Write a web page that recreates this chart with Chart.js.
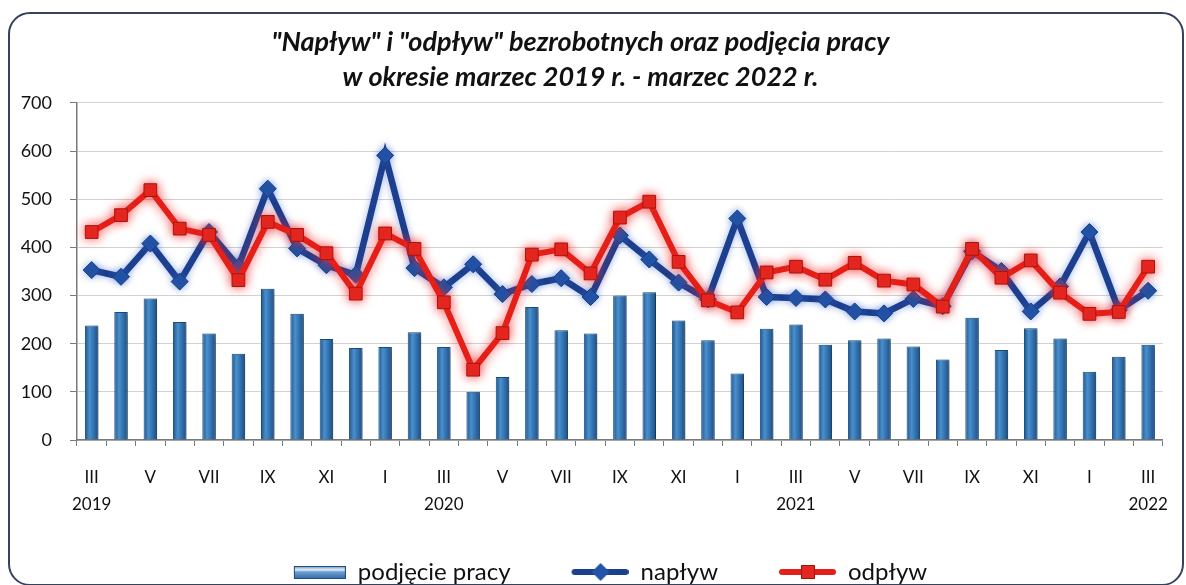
<!DOCTYPE html>
<html><head><meta charset="utf-8">
<script src="https://cdn.jsdelivr.net/npm/chart.js@4.4.1/dist/chart.umd.min.js"></script>
<style>
html,body{margin:0;padding:0;background:#fff;overflow:hidden;width:1186px;height:585px;}
#frame{position:absolute;left:8px;top:12px;width:1172px;height:570px;border:2px solid #34425e;border-radius:22px;}
#c{position:absolute;left:-14px;top:0;}
</style></head><body>
<div id="frame"></div>
<canvas id="c" width="1200" height="585"></canvas>
<script>
const categories = ["III 2019","IV 2019","V 2019","VI 2019","VII 2019","VIII 2019","IX 2019","X 2019","XI 2019","XII 2019",
  "I 2020","II 2020","III 2020","IV 2020","V 2020","VI 2020","VII 2020","VIII 2020","IX 2020","X 2020","XI 2020","XII 2020",
  "I 2021","II 2021","III 2021","IV 2021","V 2021","VI 2021","VII 2021","VIII 2021","IX 2021","X 2021","XI 2021","XII 2021",
  "I 2022","II 2022","III 2022"];
const tickLabels = [["III","2019"],"","V","","VII","","IX","","XI","","I","",
  ["III","2020"],"","V","","VII","","IX","","XI","","I","",
  ["III","2021"],"","V","","VII","","IX","","XI","","I","",["III","2022"]];
const yTicks = [0,100,200,300,400,500,600,700];
const podjeciePracy = [238,266,294,245,221,179,314,262,210,191,193,224,193,100,131,276,228,221,300,307,248,207,138,231,240,198,207,211,194,167,254,187,232,211,142,173,198];
const naplyw = [353,339,408,329,432,360,522,398,363,343,591,357,317,365,303,324,336,297,425,375,327,292,460,297,295,292,267,263,293,278,392,351,267,319,432,270,310];
const odplyw = [432,467,519,439,426,332,453,426,388,304,429,397,286,146,222,385,396,346,462,495,370,290,265,348,360,333,368,331,323,277,397,337,373,306,262,266,360];

function makeIcon(kind){
  const cv = document.createElement('canvas');
  cv.width = 112; cv.height = 24;
  const g = cv.getContext('2d');
  if (kind === 'bar'){
    const gr = g.createLinearGradient(0,6,0,19);
    gr.addColorStop(0,'#5b8fc4'); gr.addColorStop(0.3,'#e6eef7'); gr.addColorStop(0.45,'#6fa0d2'); gr.addColorStop(1,'#2d68a6');
    g.fillStyle = gr; g.fillRect(60,6,52,13);
    g.strokeStyle = '#1d4f86'; g.lineWidth = 1; g.strokeRect(60.5,6.5,51,12);
  } else if (kind === 'nap'){
    g.strokeStyle = '#1d3f8f'; g.lineWidth = 6; g.lineCap='round';
    g.beginPath(); g.moveTo(58,12); g.lineTo(109,12); g.stroke();
    g.fillStyle = '#2454a8';
    g.beginPath(); g.moveTo(84,3); g.lineTo(93,12); g.lineTo(84,21); g.lineTo(75,12); g.closePath(); g.fill();
  } else {
    g.strokeStyle = '#e42019'; g.lineWidth = 6; g.lineCap='round';
    g.beginPath(); g.moveTo(58,12); g.lineTo(109,12); g.stroke();
    g.fillStyle = '#e3261f'; g.fillRect(77,5,14,14);
    g.strokeStyle = '#a8140f'; g.lineWidth = 1; g.strokeRect(77.5,5.5,13,13);
  }
  return cv;
}
const legendIcons = [makeIcon('bar'), makeIcon('nap'), makeIcon('odp')];

const effects = {
  id: 'effects',
  beforeDatasetDraw(chart, args) {
    const ctx = chart.ctx;
    ctx.save();
    if (args.index === 0) {
      args.meta.data.forEach(el => {
        const gr = ctx.createLinearGradient(el.x - el.width/2, 0, el.x + el.width/2, 0);
        gr.addColorStop(0, '#1c558e');
        gr.addColorStop(0.35, '#4a8fcc');
        gr.addColorStop(0.55, '#3a7bb9');
        gr.addColorStop(1, '#1a4f85');
        el.options.backgroundColor = gr;
      });
      ctx.shadowColor = 'rgba(0,0,0,0.32)'; ctx.shadowBlur = 5; ctx.shadowOffsetX = 4; ctx.shadowOffsetY = 1;
    } else if (args.index === 1) {
      ctx.shadowColor = 'rgba(60,110,210,0.5)'; ctx.shadowBlur = 7;
    } else {
      ctx.shadowColor = 'rgba(245,40,40,0.75)'; ctx.shadowBlur = 11;
    }
  },
  afterDatasetDraw(chart) { chart.ctx.restore(); }
};

const FONT = 'Lato';
new Chart(document.getElementById('c'), {
  type: 'bar',
  data: {
    labels: categories,
    datasets: [
      { label: 'podjęcie pracy', data: podjeciePracy, backgroundColor: () => '#2f72b0',
        borderColor: '#1b4f82', borderWidth: 1, barPercentage: 0.46, categoryPercentage: 1, order: 3 },
      { type: 'line', label: 'napływ', data: naplyw, borderColor: '#1d3f8f', borderWidth: 6.5,
        pointStyle: 'rectRot', pointRadius: 8.5, pointBackgroundColor: '#2151a3', pointBorderColor: '#1a3a80',
        pointBorderWidth: 1, tension: 0, order: 2 },
      { type: 'line', label: 'odpływ', data: odplyw, borderColor: '#e42019', borderWidth: 6,
        pointStyle: 'rect', pointRadius: 9, pointBackgroundColor: '#e3261f', pointBorderColor: '#a8140f',
        pointBorderWidth: 1, tension: 0, order: 1 }
    ]
  },
  options: {
    responsive: false, animation: false, devicePixelRatio: 1,
    layout: { padding: { left: 0, right: 11, top: 0, bottom: -9 } },
    scales: {
      x: {
        grid: { display: true, drawOnChartArea: false, drawTicks: true, tickLength: 6, color: '#7a7a7a', offset: true },
        border: { display: true, color: '#7a7a7a', width: 1.5 },
        ticks: { autoSkip: false, maxRotation: 0, minRotation: 0, padding: 18, color: '#111',
          font: { family: FONT, size: 17, lineHeight: 1.6 },
          callback: (v, i) => tickLabels[i] },
        afterFit: s => { s.height = 114; }
      },
      y: {
        min: 0, max: 700,
        afterBuildTicks: s => { s.ticks = yTicks.map(v => ({ value: v })); },
        grid: { color: '#d2d2d2', lineWidth: 1, tickLength: 7, tickColor: '#7a7a7a' },
        border: { display: true, color: '#7a7a7a', width: 1.5 },
        ticks: { padding: 18, color: '#111', font: { family: FONT, size: 18 } },
        afterFit: s => { s.width = 91; }
      }
    },
    plugins: {
      title: { display: true,
        text: ['"Napływ" i "odpływ" bezrobotnych oraz podjęcia pracy', 'w okresie marzec 2019 r. - marzec 2022 r.'],
        color: '#111', font: { family: FONT, size: 27, weight: 'bold', style: 'italic', lineHeight: 1.296 },
        padding: { top: 24.5, bottom: 8.5 } },
      legend: { position: 'bottom',
        labels: { usePointStyle: true, pointStyleWidth: 112, padding: 6, color: '#111',
          font: { family: FONT, size: 24 },
          generateLabels: chart => chart.data.datasets.map((ds, i) => ({
            text: ds.label, pointStyle: legendIcons[i], fillStyle: 'rgba(0,0,0,0)', strokeStyle: 'rgba(0,0,0,0)',
            lineWidth: 0, hidden: false, datasetIndex: i, fontColor: '#111' })) } },
      tooltip: { enabled: false }
    }
  },
  plugins: [effects]
});
</script>
</body></html>
